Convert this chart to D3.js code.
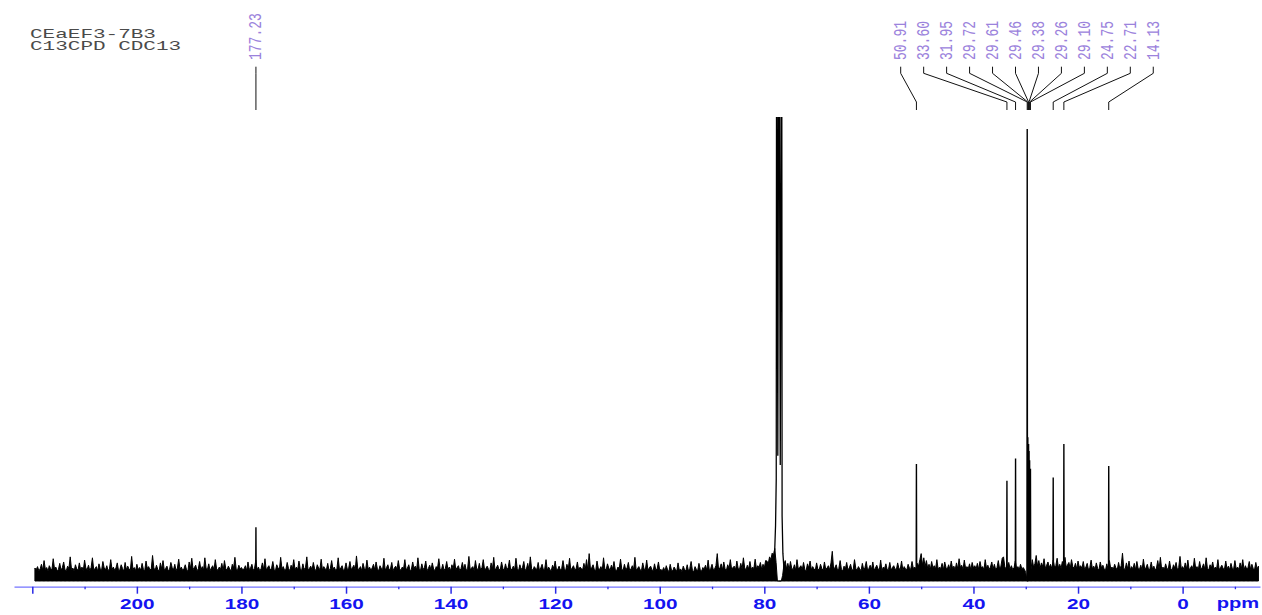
<!DOCTYPE html>
<html>
<head>
<meta charset="utf-8">
<script src="https://cdn.jsdelivr.net/npm/d3@7"></script>
<style>
  html, body { margin: 0; padding: 0; background: #fff; }
  svg { display: block; }
</style>
</head>
<body>
<svg id="chart" width="1262" height="615"></svg>
<script>
// ---------------- DATA ----------------
const titleLines = ["CEaEF3-7B3", "C13CPD CDC13"];

// ppm axis extent and ticks
const ppmExtent = [223.5, -14.8];
const majorTicks = [220, 200, 180, 160, 140, 120, 100, 80, 60, 40, 20, 0];
const minorTicks = [210, 190, 170, 150, 130, 110, 90, 70, 50, 30, 10, -10];
const unitLabel = "ppm";

// labelled peaks (ppm, relative intensity)
const peakPpm    = [177.23, 50.91, 33.60, 31.95, 29.72, 29.61, 29.46, 29.38, 29.26, 29.10, 24.75, 22.71, 14.13];
const peakHeight = [11.6,   25.2,  21.6,  26.4,  97.4,  31.0,  29.5,  28.0,  26.0,  24.2,  22.3,  29.5,  24.8];
const peakLabels = ["177.23", "50.91", "33.60", "31.95", "29.72", "29.61", "29.46", "29.38", "29.26", "29.10", "24.75", "22.71", "14.13"];

// CDCl3 solvent triplet profile (ppm, intensity; exceeds plot top)
const solventPpm = [78.30, 78.00, 77.85, 77.72, 77.64, 77.42, 77.20, 76.95, 76.68, 76.60, 76.45, 76.20];
const solventInt = [3.0,   7.0,   12.0,  22.0,  150,   27.0,  150,   25.0,  150,   14.0,  6.0,   2.0];

// baseline noise, one row per 10 ppm starting at 219.5 ppm, sampled every 0.25 ppm
const noiseStart = 219.5;
const noiseRowSpan = 10;
const noiseStep = 0.25;
const noiseRows = [
  [2.8,2.4,3.1,2.2,2.6,3.6,2.3,4.4,2.5,2.9, 2.1,3.3,2.7,2.4,4.8,2.6,3.0,2.2,2.5,3.8, 2.3,2.9,4.1,2.4,2.2,3.2,2.7,5.2,2.5,2.8, 2.1,3.5,2.6,2.3,3.9,2.4,3.0,2.2,4.5,2.7],
  [2.5,3.4,2.2,2.9,5.0,2.4,2.7,3.1,2.1,3.7, 2.6,2.3,4.2,2.8,2.4,3.3,2.2,2.6,4.6,2.5, 3.0,2.3,2.8,3.9,2.2,2.5,3.5,2.7,2.1,4.0, 2.4,3.2,2.6,2.3,5.3,2.5,2.9,2.2,3.6,2.4],
  [2.9,2.3,3.8,2.5,2.2,4.3,2.7,3.1,2.4,2.6, 5.5,2.8,2.3,3.4,2.5,2.1,3.9,2.6,4.4,2.3, 2.7,3.2,2.2,2.5,4.0,2.9,2.4,3.6,2.2,2.8, 4.7,2.5,3.0,2.3,2.6,3.5,2.4,2.1,4.1,2.7],
  [4.9,2.5,2.9,3.4,2.2,2.6,4.2,2.4,3.1,2.3, 5.0,2.7,2.5,3.7,2.2,2.8,3.3,2.4,4.6,2.6, 2.3,3.0,2.5,3.8,2.2,4.4,2.7,2.4,3.2,2.6, 2.1,3.6,2.8,5.1,2.5,2.3,3.4,2.6,2.9,2.4],
  [2.6,3.3,2.2,4.1,2.5,2.8,3.6,2.3,2.7,4.5, 2.4,3.0,2.2,2.6,3.9,2.5,4.8,2.3,2.9,3.3, 2.4,2.7,4.2,2.5,2.2,3.5,2.8,2.4,5.1,2.6, 3.1,2.3,2.5,4.0,2.7,2.2,3.4,2.6,4.6,2.4],
  [3.0,2.4,4.3,2.6,2.2,3.7,2.5,2.9,5.2,2.3, 2.7,3.2,2.4,4.0,2.6,2.2,3.5,2.8,2.5,4.7, 2.3,3.1,2.6,2.4,3.8,2.2,2.7,4.4,2.5,3.0, 2.3,2.6,5.0,2.4,2.8,3.3,2.2,2.6,3.9,2.5],
  [2.7,4.2,2.4,2.9,3.4,2.3,5.4,2.6,2.5,3.1, 2.2,3.8,2.7,2.4,4.5,2.5,3.0,2.3,2.8,3.6, 2.4,4.1,2.6,2.2,3.3,2.7,2.5,4.9,2.3,2.9, 3.5,2.4,2.6,4.0,2.2,2.8,3.2,2.5,4.4,2.6],
  [2.3,3.0,2.6,4.6,2.4,2.8,3.5,2.2,2.5,4.1, 2.7,3.2,2.4,5.0,2.6,2.3,3.7,2.5,2.9,4.3, 2.2,2.7,3.4,2.4,3.9,2.6,2.2,3.1,2.8,4.8, 2.5,2.4,3.6,2.3,2.7,4.2,2.5,3.0,2.2,3.5],
  [2.6,4.7,2.4,2.9,3.3,2.2,2.7,4.0,2.5,3.6, 2.3,2.6,5.3,2.4,2.8,3.1,2.2,4.4,2.6,2.5, 3.8,2.3,2.9,4.6,2.4,2.7,3.2,2.5,2.2,3.9, 2.6,5.1,2.3,2.8,3.4,2.5,2.4,4.1,2.7,2.3],
  [3.7,2.5,2.8,4.5,2.3,2.6,3.2,2.4,4.9,2.7, 2.2,3.5,2.5,2.9,4.2,2.3,2.6,3.8,2.4,5.2, 2.6,2.3,3.1,2.7,2.5,4.0,2.2,2.8,3.6,2.4, 2.6,4.6,2.3,3.0,2.5,2.2,3.4,2.7,4.3,2.4],
  [2.5,3.2,2.3,2.7,4.4,2.6,2.2,3.6,2.5,4.9, 2.3,2.8,3.3,2.4,2.6,4.1,2.2,3.0,2.7,2.4, 3.8,2.5,4.6,2.3,5.9,2.6,2.9,3.5,2.4,2.2, 4.3,2.7,2.5,3.1,2.3,5.0,2.6,2.4,3.7,2.8],
  [2.3,3.4,2.6,4.2,2.4,2.2,3.0,2.7,4.7,2.5, 2.3,3.6,2.4,2.8,4.0,2.2,2.6,3.3,2.5,5.1, 2.3,2.7,3.1,2.4,2.2,3.9,2.6,2.4,4.5,2.3, 2.8,3.2,2.5,2.2,3.7,2.4,2.6,4.1,2.3,2.5],
  [2.2,2.9,2.1,3.3,2.4,2.0,3.6,2.3,2.2,3.0, 2.5,2.1,3.9,2.3,2.6,2.0,3.2,2.4,2.2,3.5, 2.1,2.7,4.2,2.3,2.0,3.1,2.5,2.2,3.8,2.4, 2.1,2.9,2.6,3.4,2.3,4.5,2.2,2.7,3.6,2.4],
  [2.6,3.3,5.9,2.5,2.8,3.7,2.4,4.1,2.6,2.3, 3.5,2.7,4.6,2.5,2.9,3.2,2.4,4.3,2.7,2.5, 3.8,2.6,5.0,2.8,2.4,3.4,2.6,4.2,2.5,3.0, 2.7,4.7,2.6,3.3,2.9,4.0,2.5,3.6,2.8,4.4],
  [4.3,3.7,5.2,4.6,6.0,5.5,7.0,4.0,0.0,0.0, 0.0,0.0,1.2,3.5,4.4,2.6,3.8,2.4,4.2,2.7, 2.5,3.5,2.3,4.6,2.6,2.9,3.3,2.4,4.0,2.5, 2.2,3.7,2.8,4.3,2.4,3.1,2.6,2.3,3.9,2.5],
  [2.4,3.6,2.7,2.3,4.1,2.5,2.8,3.3,2.4,3.9, 6.4,2.6,2.9,3.5,2.3,2.7,4.4,2.5,2.2,3.2, 2.6,4.0,2.4,2.8,3.6,2.3,2.5,4.6,2.7,2.4, 3.1,2.6,2.2,3.8,2.5,2.9,4.2,2.3,2.7,3.4],
  [2.5,4.1,2.3,2.8,3.4,2.6,2.4,4.5,2.2,3.0, 2.7,3.7,2.4,2.5,4.0,2.3,2.9,3.3,2.6,2.4, 3.9,2.7,2.5,4.3,2.3,3.1,2.6,2.4,3.6,2.8, 2.5,4.2,2.7,3.0,2.6,3.8,3.2,4.6,5.9,3.4],
  [5.0,3.1,4.4,2.7,3.6,2.5,4.2,2.8,3.3,2.6, 4.6,2.5,3.0,2.7,3.8,2.4,4.1,2.9,2.6,3.5, 2.5,4.3,2.7,3.2,2.4,3.9,2.6,4.8,2.9,3.4, 2.5,4.5,2.7,3.1,2.6,3.7,2.4,4.0,2.8,3.3],
  [2.6,3.8,2.5,4.2,2.8,3.1,2.4,4.6,2.7,3.4, 2.5,3.0,4.1,2.6,3.6,2.4,2.9,4.4,2.6,3.2, 4.9,5.2,3.0,2.7,3.5,4.0,2.6,3.3,2.5,2.8, 4.3,2.7,3.1,2.4,3.6,2.6,2.9,2.5,1.8,0.0],
  [0.0,0.8,2.5,4.6,3.0,3.7,5.5,3.2,4.4,2.8, 3.9,3.1,4.8,2.7,3.4,4.1,2.9,3.6,2.6,4.5, 3.0,3.3,4.9,2.8,3.6,2.7,4.2,3.0,5.1,2.9, 3.5,4.0,2.7,4.6,3.1,2.8,3.8,2.6,4.3,2.9],
  [3.3,2.7,4.2,2.5,3.0,3.8,2.4,2.9,4.5,2.6, 3.2,2.5,3.9,2.7,2.4,4.1,2.8,3.4,2.6,2.3, 3.7,2.5,4.4,2.7,3.0,2.5,3.6,2.8,2.4,4.0, 2.6,3.3,6.0,2.7,2.5,3.9,2.6,4.3,2.4,3.1],
  [2.6,3.8,2.4,4.2,2.7,2.5,3.4,2.3,4.7,2.6, 2.9,3.6,2.4,2.7,4.1,2.5,3.2,2.3,2.8,4.4, 2.6,5.1,2.5,3.0,2.4,3.7,2.7,2.5,4.3,2.6, 2.3,3.5,2.8,4.0,2.4,2.9,5.3,2.6,3.1,2.5],
  [3.9,2.6,4.5,2.4,2.8,3.3,2.5,4.9,2.7,3.1, 2.4,4.2,2.6,2.9,3.7,2.5,5.0,2.7,2.4,3.5, 2.8,4.1,2.5,3.0,2.6,4.6,2.4,2.9,3.4,2.7, 2.5,4.3,2.6,3.2,2.4,3.8,2.7,2.5,4.4,2.6],
  [3.0,2.5,3.9,2.7,4.6,2.4,3.3,2.6,2.9,4.2, 2.5,3.6,2.7,2.4,4.0,2.6,3.2]
];

// ---------------- LAYOUT ----------------
const svg = d3.select("#chart");
const W = 1262, H = 615;
const plotLeft = 14, plotRight = 1260;
const baseY = 581, topY = 117, axisY = 586.7;

const x = d3.scaleLinear().domain(ppmExtent).range([plotLeft, plotRight]);
const y = d3.scaleLinear().domain([0, 100]).range([baseY, topY]);

svg.append("rect").attr("width", W).attr("height", H).attr("fill", "#fff");

const defs = svg.append("defs");
defs.append("clipPath").attr("id", "plotClip")
  .append("rect").attr("x", 0).attr("y", topY).attr("width", W).attr("height", baseY - topY + 1);

const spec = svg.append("g").attr("clip-path", "url(#plotClip)");

// noise band
const noiseData = noiseRows.flatMap((row, k) =>
  row.map((v, j) => ({ ppm: noiseStart - k * noiseRowSpan - j * noiseStep, v })));
spec.append("path")
  .datum(noiseData)
  .attr("d", d3.area().x(d => x(d.ppm)).y0(y(0)).y1(d => y(d.v)))
  .attr("fill", "#000")
  .attr("stroke", "#000")
  .attr("stroke-width", 1.0)
  .attr("stroke-linejoin", "miter")
  .attr("stroke-miterlimit", 4);

// solvent triplet
const solventData = solventPpm.map((p, i) => ({ ppm: p, v: solventInt[i] }));
spec.append("path")
  .datum(solventData)
  .attr("d", d3.line().x(d => x(d.ppm)).y(d => y(d.v)))
  .attr("fill", "none")
  .attr("stroke", "#000")
  .attr("stroke-width", 1.3);

// sharp peaks
const peakData = peakPpm.map((p, i) => ({ ppm: p, v: peakHeight[i], label: peakLabels[i] }));
const line = d3.line().x(d => x(d[0])).y(d => y(d[1]));
spec.selectAll("path.peak")
  .data(peakData)
  .join("path")
  .attr("class", "peak")
  .attr("d", d => line([[d.ppm + 0.05, 0], [d.ppm, d.v], [d.ppm - 0.05, 0]]))
  .attr("fill", "none")
  .attr("stroke", "#000")
  .attr("stroke-width", 1.4);

// ---------------- PEAK LABELS ----------------
const labelColor = "#9b82dc";
const groupStartX = 900.7, groupStep = 22.96;
const labelX = peakData.map((d, i) => i === 0 ? x(d.ppm) : groupStartX + (i - 1) * groupStep);
const yTxt = 60, yL1 = 66.7, yL2 = 73.3, yL3 = 102, yL4 = 110;

const lab = svg.append("g");
peakData.forEach((d, i) => {
  const lx = labelX[i], px = x(d.ppm);
  lab.append("path")
    .attr("d", `M${lx},${yL1}L${lx},${yL2}L${px},${yL3}L${px},${yL4}`)
    .attr("fill", "none")
    .attr("stroke", "#111")
    .attr("stroke-width", 1);
  lab.append("g")
    .attr("transform", `translate(${lx},${yTxt})`)
    .append("text")
    .attr("transform", "scale(1.35,1) rotate(-90)")
    .attr("dy", "0.3em")
    .attr("font-family", "'Liberation Mono', 'Courier New', monospace")
    .attr("font-size", 13)
    .attr("fill", labelColor)
    .text(d.label);
});

// ---------------- TITLE ----------------
titleLines.forEach((t, i) => {
  svg.append("g")
    .attr("transform", `translate(30,${37.5 + i * 12})`)
    .append("text")
    .attr("transform", "scale(1.75,1)")
    .attr("font-family", "'Liberation Mono', 'Courier New', monospace")
    .attr("font-size", 12)
    .attr("fill", "#4a4a4a")
    .text(t);
});

// ---------------- AXIS ----------------
const axisG = svg.append("g").attr("transform", `translate(0,${axisY})`);
const majorAxis = d3.axisBottom(x)
  .tickValues(majorTicks)
  .tickSize(7)
  .tickSizeOuter(0)
  .tickFormat(d => d === 220 ? "" : String(d));
axisG.call(majorAxis);
axisG.select(".domain").attr("stroke", "#7373ff").attr("stroke-width", 1.3);
axisG.selectAll(".tick line").attr("stroke", "#2a2ae6").attr("stroke-width", 1.5);
axisG.selectAll(".tick text")
  .attr("y", 22.5)
  .attr("dy", 0)
  .attr("transform", "scale(1.48,1)")
  .attr("font-family", "'Liberation Sans', Arial, sans-serif")
  .attr("font-weight", "bold")
  .attr("font-size", 14)
  .attr("fill", "#1414f0");

const minorG = svg.append("g").attr("transform", `translate(0,${axisY})`);
const minorAxis = d3.axisBottom(x).tickValues(minorTicks).tickSize(2.5).tickSizeOuter(0).tickFormat("");
minorG.call(minorAxis);
minorG.select(".domain").remove();
minorG.selectAll(".tick line").attr("stroke", "#2a2ae6").attr("stroke-width", 1.3);

svg.append("g")
  .attr("transform", `translate(1216.7,${axisY + 21.5})`)
  .append("text")
  .attr("transform", "scale(1.44,1)")
  .attr("font-family", "'Liberation Sans', Arial, sans-serif")
  .attr("font-weight", "bold")
  .attr("font-size", 14)
  .attr("fill", "#1414f0")
  .text(unitLabel);
</script>
</body>
</html>
